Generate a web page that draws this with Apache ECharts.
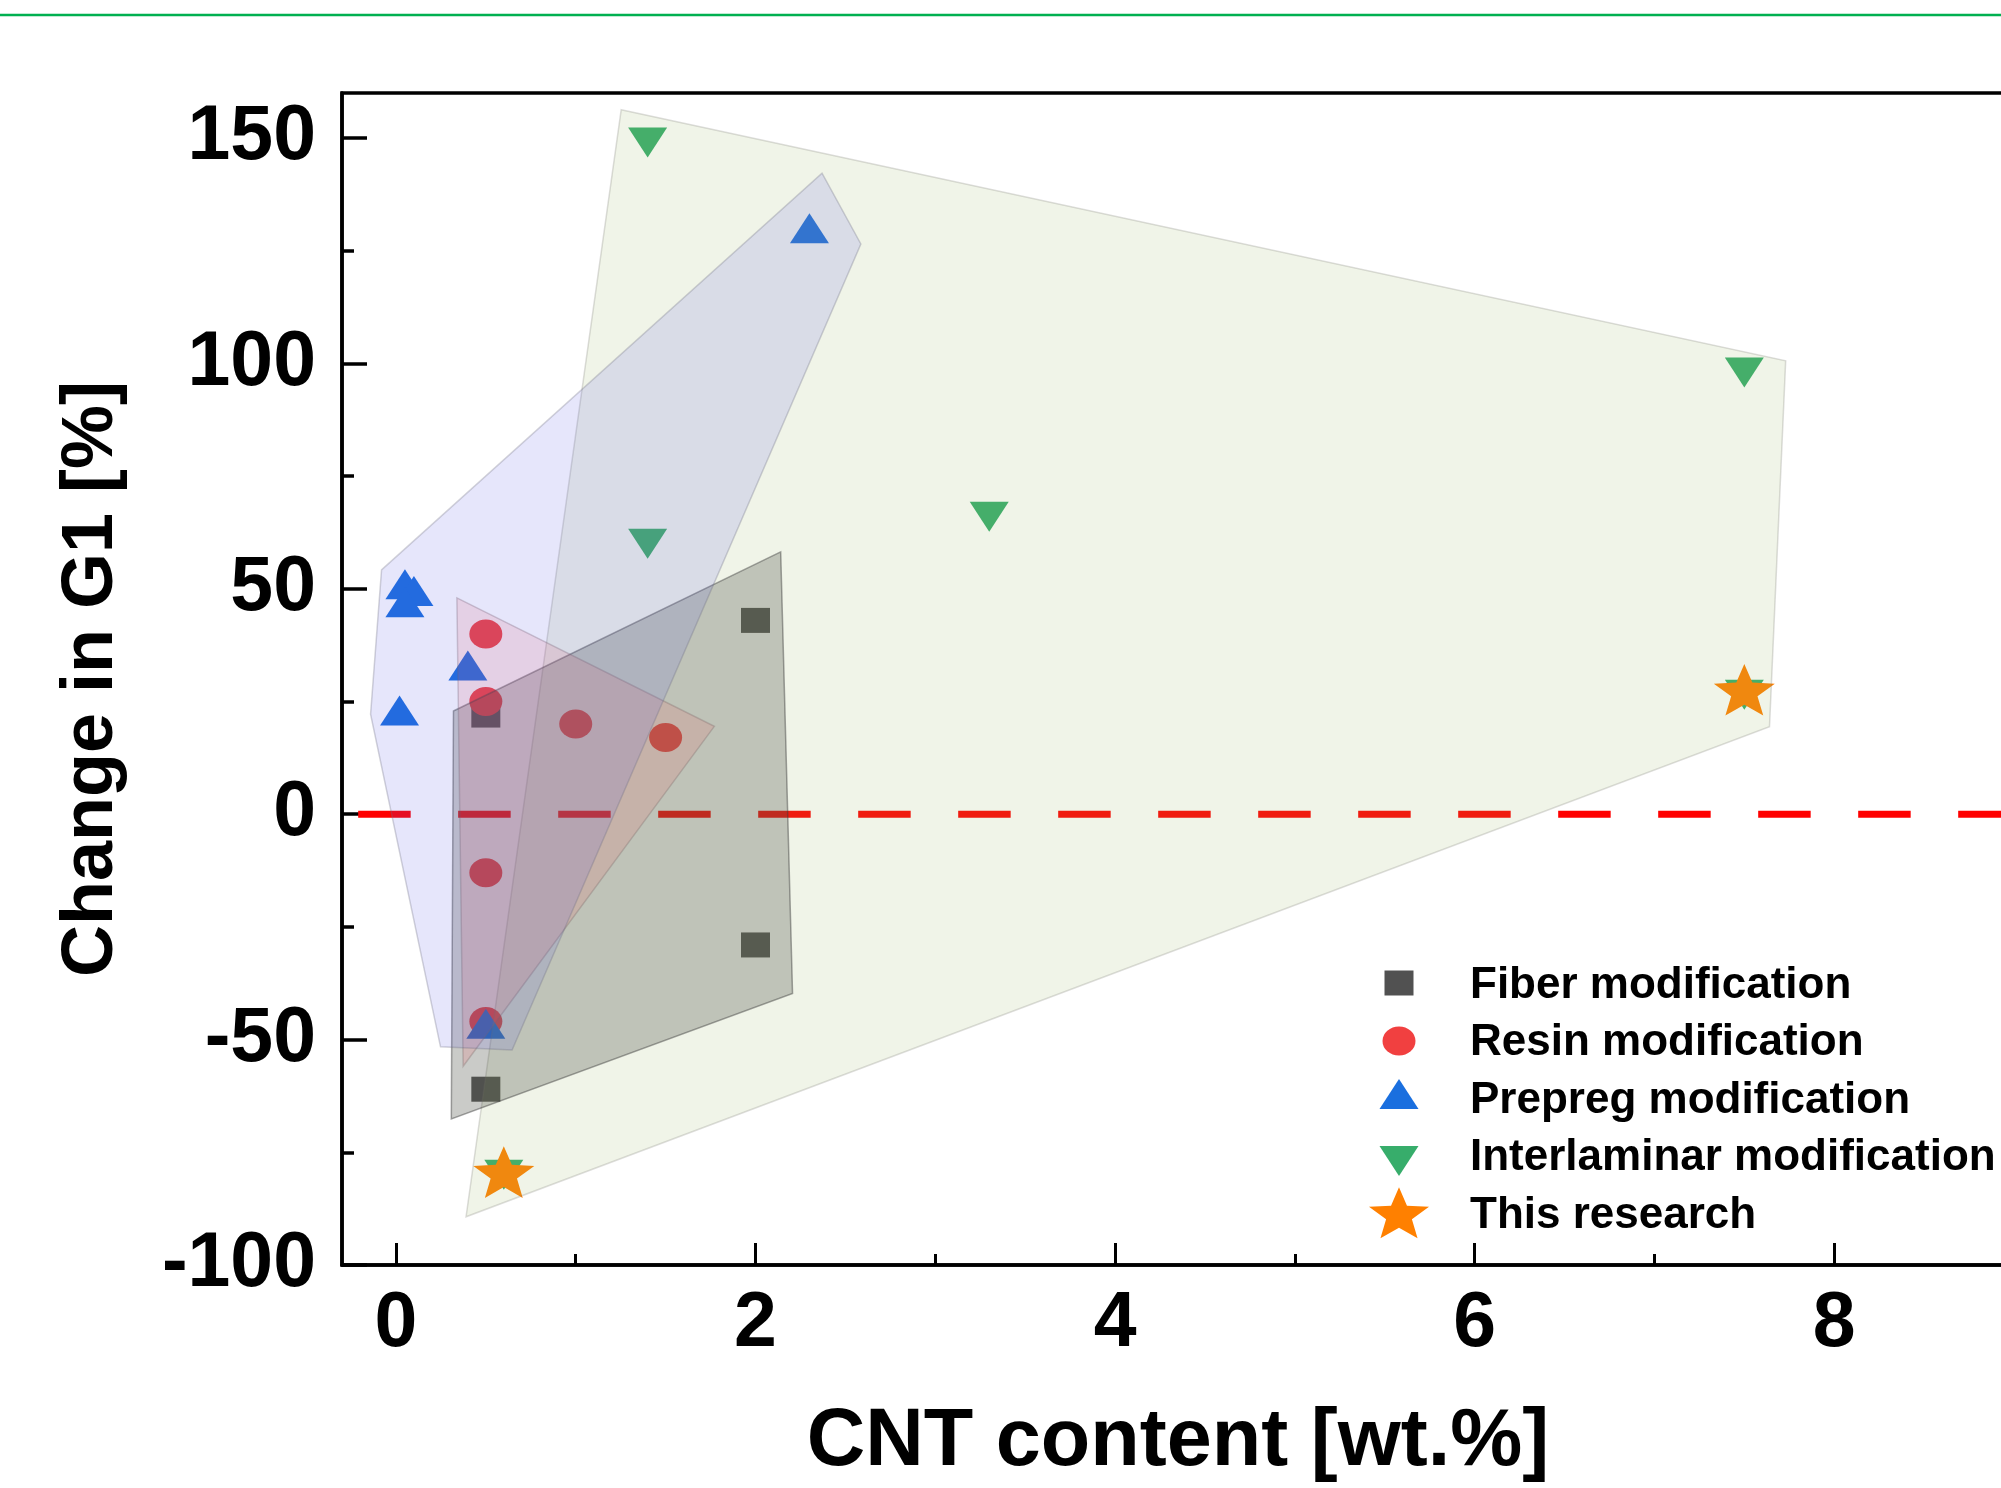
<!DOCTYPE html>
<html><head><meta charset="utf-8">
<script src="https://cdn.jsdelivr.net/npm/echarts@6/dist/echarts.min.js"></script>
<style>html,body{margin:0;padding:0;background:#fff}#c{width:2001px;height:1488px}</style>
</head><body><div id="c"></div>
<script>
// ---------- data ----------
const xTickLabels = [0, 2, 4, 6, 8];
const xMinorTicks = [1, 3, 5, 7];
const yTickLabels = [-100, -50, 0, 50, 100, 150];
const yMinorTicks = [-75, -25, 25, 75, 125];

const seriesNames = ['Fiber modification', 'Resin modification', 'Prepreg modification', 'Interlaminar modification', 'This research'];
const fiberData = [[0.5, 22], [2, 43], [2, -29], [0.5, -61]];
const resinData = [[0.5, 40], [0.5, 25], [1, 20], [1.5, 17], [0.5, -13], [0.5, -46]];
const prepregData = [[0.05, 51], [0.1, 49.5], [0.05, 47], [0.4, 33], [0.02, 23], [2.3, 130], [0.5, -46.5]];
const interlaminarData = [[1.4, 149], [1.4, 60], [3.3, 66], [7.5, 98], [0.6, -80], [7.5, 26.5]];
const researchData = [[0.6, -80], [7.5, 27]];

const fiberHull = [[0.32, 22.9], [2.14, 58.2], [2.206, -39.75], [0.308, -67.6]];
const resinHull = [[0.339, 48], [1.771, 19.5], [0.374, -55.9]];
const prepregHull = [[-0.08, 54.2], [2.37, 142.2], [2.586, 126.5], [0.646, -52.3], [0.248, -51.6], [-0.141, 22.2]];
const interlaminarHull = [[1.253, 156.3], [7.73, 100.6], [7.64, 19.4], [0.39, -89.3]];
const zeroLine = [[-0.21, 0], [9.5, 0]];

// ---------- styling helpers ----------
const FONT = 'Liberation Sans';
function starPathStr(cx, cy, sx, sy) {
  const pts = [];
  for (let i = 0; i < 10; i++) {
    const ang = -Math.PI / 2 + i * Math.PI / 5;
    const rr = i % 2 === 0 ? 1 : 0.43;
    pts.push([cx + sx * rr * Math.cos(ang), cy + sy * rr * Math.sin(ang)]);
  }
  return 'M' + pts.map(p => p[0].toFixed(2) + ',' + p[1].toFixed(2)).join('L') + 'Z';
}
const starSymbol = 'path://M0,1M0,-1' + starPathStr(0, 0, 1, 1);
const ellipseSymbol = 'path://M0,50A50,50 0 1,1 100,50A50,50 0 1,1 0,50Z';
const downTriSymbol = 'path://M0,0L100,0L50,100Z';

const LW = 132, LH = 57.5, PAD = 'path://M0,0M' + LW + ',' + LH;
const legendIcons = [
  PAD + 'M51.5,13.75L80.5,13.75L80.5,38.75L51.5,38.75Z',
  PAD + 'M49.5,26.75A16.5,14.5 0 1,1 82.5,26.75A16.5,14.5 0 1,1 49.5,26.75Z',
  PAD + 'M66,7.25L85.5,37.25L46.5,37.25Z',
  PAD + 'M46.5,16.75L85.5,16.75L66,46.75Z',
  PAD + starPathStr(66, 28.75, 31.55, 28.2)
];
const colors = ['#515151', '#f14040', '#1a6fdf', '#37ad6b', '#ff8000'];

function hullSeries(name, hull, fill, stroke) {
  return {
    type: 'custom', name: name, z: 3, silent: true,
    coordinateSystem: 'cartesian2d', xAxisIndex: 0, yAxisIndex: 0,
    data: hull,
    clip: true,
    renderItem: function (params, api) {
      if (params.dataIndex !== 0) return null;
      const pts = hull.map(p => api.coord(p));
      return { type: 'polygon', shape: { points: pts }, style: { fill: fill, stroke: stroke, lineWidth: 1.5 } };
    }
  };
}
function scatterSeries(i, data, symbol, size) {
  return {
    type: 'scatter', name: seriesNames[i], data: data, symbol: symbol, symbolSize: size,
    itemStyle: { color: colors[i], opacity: 1 }, z: 2
  };
}

const labelStyle = { fontFamily: FONT, fontWeight: 'bold', fontSize: 77, color: '#000' };

const chart = echarts.init(document.getElementById('c'), null, { renderer: 'canvas' });
chart.setOption({
  animation: false,
  backgroundColor: '#fff',
  graphic: [{
    type: 'line', shape: { x1: 0, y1: 15, x2: 2001, y2: 15 },
    style: { stroke: '#00b050', lineWidth: 2.5 }, silent: true
  }],
  grid: {
    left: 342, top: 93, right: -13, bottom: 223,
    show: true, borderColor: '#000', borderWidth: 3.5,
    containLabel: false, outerBoundsMode: 'none'
  },
  legend: {
    orient: 'vertical', left: 1333, top: 956.75, padding: 0, itemGap: 0,
    itemWidth: LW, itemHeight: LH, selectedMode: false,
    textStyle: { fontFamily: FONT, fontWeight: 'bold', fontSize: 44, color: '#000' },
    data: seriesNames.map((n, i) => ({ name: n, icon: legendIcons[i] }))
  },
  xAxis: [{
    type: 'value', min: -0.3, max: 9, position: 'bottom',
    axisLine: { show: true, onZero: false, lineStyle: { color: '#000', width: 3.5 } },
    axisTick: { show: true, inside: true, length: 22, customValues: xTickLabels, lineStyle: { color: '#000', width: 3 } },
    axisLabel: Object.assign({ show: true, customValues: xTickLabels, margin: 21 }, labelStyle),
    splitLine: { show: false },
    name: 'CNT content [wt.%]', nameLocation: 'middle', nameGap: 137,
    nameTextStyle: { fontFamily: FONT, fontWeight: 'bold', fontSize: 81, color: '#000' }
  }, {
    type: 'value', min: -0.3, max: 9, position: 'bottom',
    axisLine: { show: false, onZero: false },
    axisTick: { show: true, inside: true, length: 11, customValues: xMinorTicks, lineStyle: { color: '#000', width: 3 } },
    axisLabel: { show: false }, splitLine: { show: false }
  }],
  yAxis: [{
    type: 'value', min: -100, max: 160, position: 'left',
    axisLine: { show: true, onZero: false, lineStyle: { color: '#000', width: 3.5 } },
    axisTick: { show: true, inside: true, length: 25, customValues: yTickLabels, lineStyle: { color: '#000', width: 3.5 } },
    axisLabel: Object.assign({ show: true, customValues: yTickLabels, margin: 26 }, labelStyle),
    splitLine: { show: false },
    name: 'Change in G1 [%]', nameLocation: 'middle', nameGap: 214,
    nameTextStyle: { fontFamily: FONT, fontWeight: 'bold', fontSize: 72, color: '#000' }
  }, {
    type: 'value', min: -100, max: 160, position: 'left',
    axisLine: { show: false, onZero: false },
    axisTick: { show: true, inside: true, length: 12, customValues: yMinorTicks, lineStyle: { color: '#000', width: 3.5 } },
    axisLabel: { show: false }, splitLine: { show: false }
  }],
  series: [
    { type: 'line', name: 'zero', data: zeroLine, symbol: 'none', silent: true, z: 2, clip: true,
      lineStyle: { color: '#ff0000', width: 7, type: [52.5, 47.5] } },
    scatterSeries(0, fiberData, 'rect', [29, 25]),
    scatterSeries(1, resinData, ellipseSymbol, [33, 29]),
    scatterSeries(2, prepregData, 'triangle', [39, 30]),
    scatterSeries(3, interlaminarData, downTriSymbol, [39, 30]),
    scatterSeries(4, researchData, starSymbol, [61, 57]),
    hullSeries('hull-interlaminar', interlaminarHull, 'rgba(155,182,102,0.15)', 'rgba(120,120,110,0.25)'),
    hullSeries('hull-fiber', fiberHull, 'rgba(78,82,72,0.3)', 'rgba(60,60,60,0.45)'),
    hullSeries('hull-resin', resinHull, 'rgba(240,80,90,0.15)', 'rgba(120,100,100,0.3)'),
    hullSeries('hull-prepreg', prepregHull, 'rgba(88,88,228,0.15)', 'rgba(110,110,130,0.3)')
  ]
});
</script>
</body></html>
